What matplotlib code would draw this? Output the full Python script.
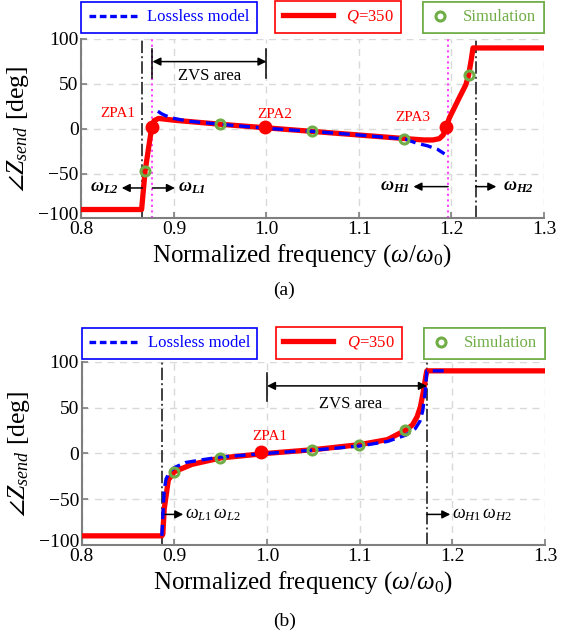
import matplotlib
matplotlib.use("Agg")
import matplotlib.pyplot as plt
import matplotlib.transforms as mtransforms
import numpy as np

plt.rcParams['font.family'] = ['Liberation Serif', 'DejaVu Serif']
plt.rcParams['mathtext.fontset'] = 'custom'
plt.rcParams['mathtext.rm'] = 'Liberation Serif'
plt.rcParams['mathtext.it'] = 'Liberation Serif:italic'
plt.rcParams['mathtext.bf'] = 'Liberation Serif:bold:italic'

# ---- panel (a) data ----
red_a_x = [0.80, 0.865, 0.8688, 0.876, 0.8785, 0.8833, 0.90, 0.95, 1.00, 1.05, 1.10, 1.15,
           1.17, 1.18, 1.187, 1.191, 1.1945, 1.1977, 1.2077, 1.2155, 1.2186, 1.2214, 1.2233, 1.30]
red_a_y = [-90, -90, -47, 2, 9, 11.5, 9.5, 5, 1, -3, -7, -11,
           -12.5, -12.5, -11, -7, 2, 12, 33, 49, 60, 77, 90, 90]
blue_a_x = [0.8826, 0.886, 0.89, 0.895, 0.90, 0.915, 0.93, 0.95, 1.00, 1.05, 1.10, 1.15,
            1.162, 1.174, 1.185, 1.1925]
blue_a_y = [19.5, 17, 15, 13, 11.5, 8.5, 7, 5, 0.5, -3, -7, -11.5, -16, -19, -23, -28]
sim_a_x = [0.8688, 0.9494, 1.049, 1.149, 1.2186]
sim_a_y = [-47, 5.5, -3, -11, 60]
zpa_a_x = [0.8765, 0.9985, 1.1945]
zpa_a_y = [2, 2, 2]
zpa_a_names = ['ZPA1', 'ZPA2', 'ZPA3']
zpa_a_lab = [(0.8398, 16.8), (1.0088, 16), (1.1587, 12.4)]
black_a = [0.8659, 1.2262]
magenta_a = [0.8767, 1.1963]

# ---- panel (b) data ----
red_b_x = [0.80, 0.8865, 0.8876, 0.889, 0.8935, 0.90, 0.919, 0.95, 1.00, 1.05, 1.10, 1.13,
           1.149, 1.157, 1.162, 1.1656, 1.169, 1.1715, 1.1725, 1.30]
red_b_y = [-90, -90, -88, -61, -29, -20, -12, -5, 0, 4, 9.5, 15,
           25, 31, 40, 51, 69, 85, 90, 90]
blue_b_x = [0.8865, 0.8875, 0.889, 0.891, 0.895, 0.90, 0.912, 0.93, 0.95, 1.00, 1.05, 1.10,
            1.13, 1.15, 1.16, 1.165, 1.168, 1.1705, 1.1725, 1.195]
blue_b_y = [-90, -70, -40, -28, -20, -15.5, -10, -7, -4, 0, 3.5, 8,
            13, 20, 27, 35, 46, 65, 90, 90]
sim_b_x = [0.8998, 0.9495, 1.049, 1.099, 1.149]
sim_b_y = [-20, -5, 4, 9.5, 26]
zpa_b_x = [0.994]
zpa_b_y = [1.5]
black_b = [0.8865, 1.1725]

RED = '#ff0000'
BLUE = '#0000ff'
GREEN = '#70ad47'
MAG = '#ff44ff'
GRAY = '#7f7f7f'

fig = plt.figure(figsize=(5.69, 6.37), dpi=100)
ax_a = fig.add_axes([0.1432, 0.657, 0.8128, 0.2818])
ax_b = fig.add_axes([0.1436, 0.1444, 0.8142, 0.2878])


def style_axes(ax):
    ax.set_xlim(0.8, 1.3)
    ax.set_ylim(-100, 100)
    ax.set_xticks([0.8, 0.9, 1.0, 1.1, 1.2, 1.3])
    ax.set_xticklabels(['0.8', '0.9', '1.0', '1.1', '1.2', '1.3'])
    ax.set_yticks([-100, -50, 0, 50, 100])
    ax.grid(True, color='#d9d9d9', linestyle=(0, (5, 4)), linewidth=1)
    ax.set_axisbelow(True)
    for s in ['top', 'right']:
        ax.spines[s].set_visible(False)
    for s in ['left', 'bottom']:
        ax.spines[s].set_color(GRAY)
        ax.spines[s].set_linewidth(1.5)
    ax.tick_params(direction='in', length=4, color=GRAY, width=1.2, labelsize=14, pad=2)
    ax.set_xlabel(r'Normalized frequency ($\omega/\omega_0$)', fontsize=18, labelpad=1)
    ax.xaxis.set_label_coords(0.477, -0.13)
    ax.set_ylabel(r'$\angle Z_{send}$ [deg]', fontsize=18.5, labelpad=5)
    # bottom y label sits a bit above its tick, as in the original
    lab = ax.get_yticklabels()[0]
    lab.set_transform(lab.get_transform() +
                      mtransforms.ScaledTranslation(0, 5 / 100, fig.dpi_scale_trans))


def add_legends(ax, dy):
    h1, = ax.plot([], [], color=BLUE, lw=2.4, linestyle=(0, (2.0, 1.1)))
    h2, = ax.plot([], [], color=RED, lw=3.8)
    h3, = ax.plot([], [], 'o', color=GREEN, mfc='none', ms=6.5, mew=2.2)
    specs = [(h1, 'Lossless model', BLUE, 'lower left', 0.0, 3.0, 0.5),
             (h2, '$Q$=350', RED, 'lower center', 0.555, 3.0, 0.8),
             (h3, 'Simulation', GREEN, 'lower right', 1.0, 1.2, 0.8)]
    for h, lab, col, loc, xa, hl, tp in specs:
        leg = ax.legend([h], [lab], loc=loc, bbox_to_anchor=(xa, 1 + dy), fontsize=12,
                        frameon=True, fancybox=False, edgecolor=col, framealpha=1,
                        handlelength=hl, handletextpad=tp, borderpad=0.45,
                        borderaxespad=0, labelcolor=col)
        leg.get_frame().set_linewidth(1.2)
        ax.add_artist(leg)


arrow = dict(arrowstyle='-|>', color='k', lw=1.1, mutation_scale=12, shrinkA=0, shrinkB=0)
darrow = dict(arrowstyle='<|-|>', color='k', lw=1.1, mutation_scale=12, shrinkA=0, shrinkB=0)

# ---------- (a) ----------
ax = ax_a
style_axes(ax)
for xv in black_a:
    ax.axvline(xv, color='#404040', lw=1.4, linestyle='-.')
for xv in magenta_a:
    ax.axvline(xv, color=MAG, lw=1.5, linestyle=':')
ax.plot(red_a_x, red_a_y, color=RED, lw=3.8, solid_joinstyle='round', zorder=3)
ax.plot(blue_a_x, blue_a_y, color=BLUE, lw=2.4, linestyle=(0, (3.3, 1.7)), zorder=4)
ax.plot(zpa_a_x, zpa_a_y, 'o', color=RED, ms=9, zorder=5)
ax.plot(sim_a_x, sim_a_y, 'o', color=GREEN, mfc='none', ms=6.5, mew=2.2, zorder=6)
for name, (tx, ty) in zip(zpa_a_names, zpa_a_lab):
    ax.text(tx, ty, name, color=RED, fontsize=11, ha='center', va='center')
ax.plot([magenta_a[0], magenta_a[0]], [56.5, 89], color='k', lw=1.1)
ax.plot([1.0, 1.0], [56.5, 89], color='k', lw=1.1)
ax.annotate('', xy=(magenta_a[0], 74.8), xytext=(1.0, 74.8), arrowprops=darrow)
ax.text(0.939, 58.4, 'ZVS area', fontsize=12, ha='center', va='center')
ax.annotate('', xy=(0.8435, -66), xytext=(black_a[0], -66), arrowprops=arrow)
ax.text(0.8405, -66, r'$\mathbf{\omega_{L2}}$', fontsize=13, ha='right', va='center')
ax.annotate('', xy=(0.901, -66), xytext=(magenta_a[0], -66), arrowprops=arrow)
ax.text(0.9045, -66, r'$\mathbf{\omega_{L1}}$', fontsize=13, ha='left', va='center')
ax.annotate('', xy=(1.1589, -64.5), xytext=(magenta_a[1], -64.5), arrowprops=arrow)
ax.text(1.1554, -64.5, r'$\mathbf{\omega_{H1}}$', fontsize=13, ha='right', va='center')
ax.annotate('', xy=(1.2485, -64.5), xytext=(black_a[1], -64.5), arrowprops=arrow)
ax.text(1.2560, -64.5, r'$\mathbf{\omega_{H2}}$', fontsize=13, ha='left', va='center')
add_legends(ax, 0.034)

# ---------- (b) ----------
ax = ax_b
style_axes(ax)
for xv in black_b:
    ax.axvline(xv, color='#404040', lw=1.4, linestyle='-.')
ax.plot(red_b_x, red_b_y, color=RED, lw=3.8, solid_joinstyle='round', zorder=3)
ax.plot(blue_b_x, blue_b_y, color=BLUE, lw=2.4, linestyle=(0, (3.3, 1.7)), zorder=4)
ax.plot(zpa_b_x, zpa_b_y, 'o', color=RED, ms=9, zorder=5)
ax.plot(sim_b_x, sim_b_y, 'o', color=GREEN, mfc='none', ms=6.5, mew=2.2, zorder=6)
ax.text(1.003, 18.5, 'ZPA1', color=RED, fontsize=11, ha='center', va='center')
ax.plot([1.0, 1.0], [57.6, 87.4], color='k', lw=1.1)
ax.annotate('', xy=(1.0, 73.6), xytext=(black_b[1], 73.6), arrowprops=darrow)
ax.text(1.090, 53.7, 'ZVS area', fontsize=12, ha='center', va='center')
ax.annotate('', xy=(0.9096, -66.6), xytext=(black_b[0], -66.6), arrowprops=arrow)
ax.text(0.912, -66.6, r'$\omega_{L1}\,\omega_{L2}$', fontsize=13, ha='left', va='center')
ax.annotate('', xy=(1.1978, -66.6), xytext=(black_b[1], -66.6), arrowprops=arrow)
ax.text(1.200, -66.6, r'$\omega_{H1}\,\omega_{H2}$', fontsize=13, ha='left', va='center')
add_legends(ax, 0.015)

fig.text(0.5, 1 - 290.7 / 637, '(a)', fontsize=14, ha='center', va='center')
fig.text(0.5, 1 - 621 / 637, '(b)', fontsize=14, ha='center', va='center')

fig.savefig('out.png', dpi=100)
